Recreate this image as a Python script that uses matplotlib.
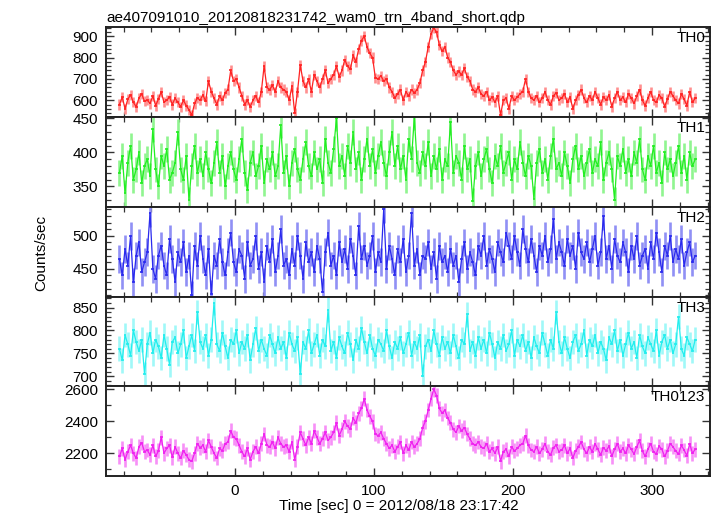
import numpy as np
import matplotlib
matplotlib.use("Agg")
import matplotlib.pyplot as plt
from matplotlib.ticker import MultipleLocator

plt.rcParams['font.family'] = ['Liberation Sans', 'DejaVu Sans']

title = "ae407091010_20120818231742_wam0_trn_4band_short.qdp"
xlabel = "Time [sec] 0 = 2012/08/18 23:17:42"
ylabel = "Counts/sec"

t_start = -83.0
bin_width = 2.0

th0 = [580, 615, 560, 605, 625, 590, 570, 610, 630, 595,
       600, 585, 620, 575, 605, 640, 590, 600, 615, 580,
       610, 590, 570, 600, 575, 555, 530, 585, 610, 600,
       625, 595, 690, 640, 610, 580, 620, 600, 635, 650,
       740, 690, 700, 660, 620, 580, 600, 570, 600, 620,
       590, 640, 760, 660, 650, 670, 640, 690, 660, 650,
       640, 600, 665, 540, 640, 765, 690, 660, 700, 640,
       720, 690, 660, 700, 740, 680, 700, 720, 760, 710,
       740, 790, 760, 745, 810, 780, 840, 880, 900, 850,
       820, 800, 705, 700, 715, 690, 700, 660, 640, 610,
       630, 650, 600, 640, 620, 650, 635, 650, 680, 740,
       780, 850, 910, 940, 920, 860, 830, 850, 800, 780,
       740, 720, 735, 720, 750, 710, 690, 650, 640, 660,
       630, 620, 640, 600, 615, 590, 620, 530, 600, 610,
       560, 620, 600, 615, 630, 640, 700, 640, 610, 600,
       620, 590, 610, 640, 600, 580, 620, 635, 600, 610,
       630, 590, 615, 560, 600, 625, 650, 610, 590, 620,
       600, 640, 610, 580, 615, 600, 625, 570, 610, 640,
       600, 615, 590, 630, 610, 585, 620, 650, 600, 575,
       610, 640, 600, 590, 625, 610, 570, 605, 640, 620,
       600, 585, 630, 605, 575, 640, 590, 610]

th1 = [370, 395, 340, 385, 410, 360, 375, 400, 355, 380,
       390, 365, 435, 375, 350, 395, 380, 405, 360, 370,
       385, 430, 375, 360, 395, 330, 380, 410, 370, 390,
       365, 400, 375, 355, 385, 415, 370, 395, 350, 380,
       400, 375, 360, 390, 420, 370, 345, 385, 400, 365,
       380, 410, 355, 390, 375, 400, 365, 380, 440, 370,
       395, 350, 385, 405, 375, 360, 390, 415, 380, 365,
       400, 375, 390, 355, 420, 385, 370, 405, 450, 380,
       395, 365, 410, 385, 430, 375, 400, 360, 390, 420,
       380, 405, 370, 395, 415, 385, 365, 400, 430, 380,
       410, 375, 395, 360, 420, 390, 452, 385, 370, 400,
       380, 415, 365, 395, 375, 405, 360, 390, 380, 445,
       370, 395, 385, 360, 410, 375, 390, 328, 380, 400,
       365, 390, 405, 375, 355, 395, 380, 410, 370, 385,
       400, 360, 390, 375, 415, 385, 365, 395, 380, 332,
       385, 405, 370, 390, 360, 395, 420, 375, 385, 365,
       400, 380, 355, 390, 410, 375, 395, 365, 385, 405,
       370, 390, 380, 415, 360, 385, 400, 375, 330, 395,
       380, 405, 370, 390, 365, 400, 385, 420, 375, 360,
       395, 380, 410, 370, 385, 355, 400, 375, 390, 365,
       385, 410, 370, 395, 360, 400, 380, 390]

th2 = [465, 440, 480, 455, 500, 430, 470, 490, 445, 460,
       475, 535, 450, 435, 470, 485, 455, 440, 495, 465,
       430, 475, 460, 490, 445, 470, 410, 485, 455, 500,
       465, 440, 480, 412, 470, 455, 495, 460, 440, 475,
       505, 460, 445, 480, 470, 435, 490, 455, 465, 500,
       450, 475, 430, 485, 460, 495, 445, 470, 510, 455,
       465, 440, 480, 455, 500, 470, 435, 490, 460, 475,
       445, 485, 465, 415, 475, 505, 455, 470, 440, 490,
       460, 480, 450, 495, 470, 440, 515, 465, 485, 455,
       470, 500, 445, 475, 460, 540, 450, 485, 465, 440,
       480, 460, 495, 445, 470, 535, 455, 480, 440, 470,
       465, 490, 450, 475, 435, 485, 460, 470, 445, 480,
       455, 470, 430, 465, 490, 450, 475, 460, 440, 485,
       470, 500, 455, 480, 465, 445, 490, 475, 460, 505,
       485, 465, 500, 475, 455, 510, 480, 460, 495, 470,
       445, 485, 470, 500, 460, 480, 525, 465, 490, 475,
       455, 495, 470, 485, 450, 505, 475, 465, 490, 460,
       480, 500, 455, 475, 530, 465, 485, 450, 495, 470,
       460, 490, 475, 445, 485, 465, 500, 455, 470, 480,
       450, 490, 465, 505, 475, 445, 485, 470, 500, 460,
       480, 465, 495, 455, 475, 490, 460, 470]

th3 = [760, 735, 790, 770, 745, 800, 775, 755, 780, 705,
       770, 795, 750, 780, 765, 740, 790, 760, 725, 775,
       785, 750, 770, 800, 740, 765, 790, 755, 840, 775,
       760, 790, 745, 780, 860, 770, 755, 795, 765, 740,
       780, 770, 800, 750, 775, 760, 790, 735, 770, 805,
       755, 780, 760, 745, 790, 770, 750, 785, 760, 775,
       740, 795, 770, 755, 785, 705, 775, 760, 800, 750,
       770, 790, 745, 780, 765, 845, 755, 775, 740, 785,
       765, 750, 795, 770, 735, 780, 760, 805, 775, 750,
       790, 760, 745, 780, 770, 755, 800, 765, 740, 775,
       760, 785, 750, 770, 795, 745, 775, 760, 790, 700,
       765, 780, 755, 800, 770, 745, 785, 760, 775, 750,
       790, 765, 740, 780, 770, 835, 755, 775, 745, 785,
       760, 780, 750, 795, 770, 740, 775, 760, 790, 755,
       770, 800, 745, 780, 765, 790, 755, 775, 740, 785,
       765, 750, 795, 770, 745, 780, 760, 840, 775, 750,
       785, 760, 740, 775, 790, 755, 770, 800, 745, 780,
       765, 790, 750, 775, 760, 735, 785, 770, 800, 755,
       780, 745, 770, 795, 760, 775, 740, 790, 765, 750,
       785, 770, 755, 800, 745, 775, 790, 760, 780, 750,
       770, 830, 760, 745, 785, 770, 755, 780]

th0123 = [2180, 2230, 2160, 2210, 2250, 2200, 2170, 2240, 2265, 2210,
          2220, 2190, 2250, 2180, 2215, 2300, 2200, 2230, 2250, 2175,
          2240, 2200, 2170, 2215, 2190, 2160, 2150, 2200, 2260, 2235,
          2250, 2210, 2280, 2240, 2200, 2170, 2230, 2215, 2260, 2270,
          2340, 2300, 2290, 2250, 2210, 2180, 2230, 2160, 2210, 2240,
          2200, 2260, 2320, 2250, 2240, 2270, 2230, 2300, 2260, 2240,
          2250, 2210, 2270, 2160, 2240, 2330, 2290, 2250, 2300, 2260,
          2340, 2300, 2260, 2290, 2330, 2280, 2300, 2330, 2390, 2310,
          2350, 2400, 2370, 2350, 2420, 2390, 2450, 2480, 2540, 2470,
          2430, 2400, 2320, 2310, 2330, 2290, 2260, 2230, 2250, 2210,
          2240, 2270, 2200, 2250, 2220, 2270, 2240, 2260, 2290, 2360,
          2400, 2470, 2540, 2600, 2560, 2480, 2450, 2470, 2420, 2390,
          2350, 2330, 2370, 2340, 2360, 2320, 2290, 2260, 2250, 2270,
          2240, 2230, 2260, 2210, 2230, 2200, 2240, 2150, 2210, 2225,
          2180, 2240, 2215, 2230, 2250, 2260, 2310, 2250, 2220, 2210,
          2240, 2200, 2225, 2260, 2210, 2190, 2235, 2250, 2210, 2220,
          2250, 2200, 2230, 2170, 2215, 2240, 2270, 2225, 2200, 2240,
          2210, 2260, 2225, 2190, 2235, 2215, 2245, 2180, 2225, 2260,
          2210, 2230, 2200, 2250, 2225, 2195, 2240, 2280, 2215, 2180,
          2225, 2260, 2210, 2195, 2245, 2225, 2180, 2215, 2260, 2240,
          2215, 2195, 2250, 2220, 2185, 2260, 2200, 2225]

band_names = ["TH0", "TH1", "TH2", "TH3", "TH0123"]
series = [th0, th1, th2, th3, th0123]
errors = [24, 19, 21, 27, 46]
ylims = [(521, 942), (320, 452), (408, 544), (678, 874), (2058, 2618)]
ymajor = [100, 50, 50, 50, 200]
yminor = [20, 10, 10, 10, 100]
main_colors = ["#ff2222", "#22ee22", "#2a2aee", "#22eeee", "#f020f0"]
light_colors = ["#ff9090", "#90f590", "#9090f5", "#a0f8f8", "#f790f7"]

fig = plt.figure(figsize=(7.17, 5.16), dpi=100)
fig.subplots_adjust(left=0.148, right=0.990, top=0.947, bottom=0.0775, hspace=0)
axes = fig.subplots(5, 1, sharex=True)

for ax, name, vals, err, yl, ymj, ymn, mc, lc in zip(
        axes, band_names, series, errors, ylims, ymajor, yminor, main_colors, light_colors):
    y = np.array(vals, dtype=float)
    t = t_start + bin_width * np.arange(len(y))
    ax.errorbar(t, y, yerr=err, fmt='none', ecolor=lc, elinewidth=1.9, capsize=0)
    ax.errorbar(t, y, xerr=bin_width / 2, fmt='none', ecolor=mc, elinewidth=1.2, capsize=0)
    ax.plot(t, y, color=mc, lw=0.9)
    ax.set_ylim(*yl)
    ax.set_xlim(-92.6, 341.5)
    ax.yaxis.set_major_locator(MultipleLocator(ymj))
    ax.yaxis.set_minor_locator(MultipleLocator(ymn))
    ax.xaxis.set_major_locator(MultipleLocator(100))
    ax.xaxis.set_minor_locator(MultipleLocator(20))
    ax.tick_params(which='both', direction='in', top=True, right=True, labelsize=11,
                   color='#333333', pad=6)
    ax.tick_params(which='major', length=6, width=1.0)
    ax.tick_params(which='minor', length=3.5, width=0.9)
    for s in ax.spines.values():
        s.set_linewidth(1.4)
        s.set_color('#222222')
    ax.text(0.992, 0.955, name, transform=ax.transAxes, ha='right', va='top', fontsize=11)

axes[0].set_title(title, loc='left', fontsize=11, pad=4)
axes[-1].set_xlabel(xlabel, fontsize=11)
axes[-1].xaxis.set_label_coords(0.484, -0.26)
fig.text(0.057, 0.51, ylabel, rotation=90, ha='center', va='center', fontsize=11)

fig.savefig("out.png", dpi=100)
